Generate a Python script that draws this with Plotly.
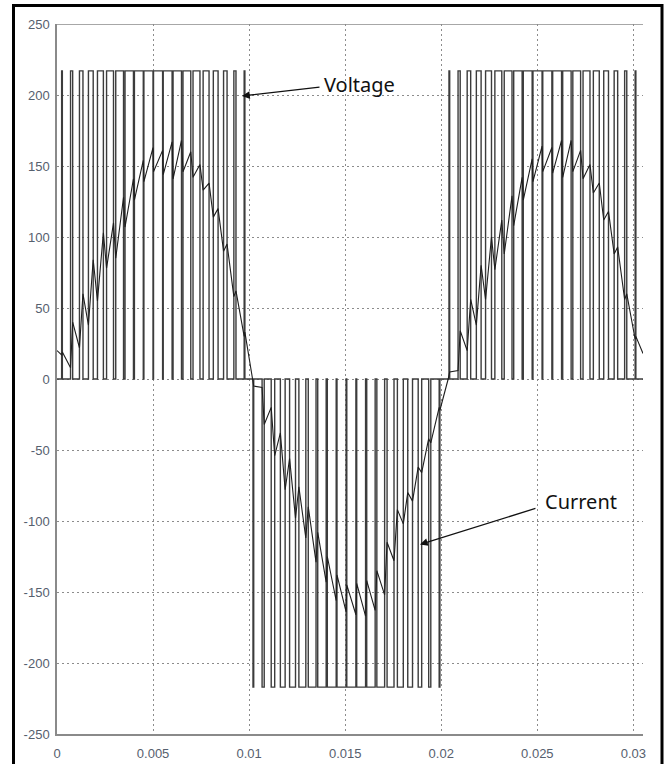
import plotly.graph_objects as go

# ---------------- data ----------------
V_DC = 217.0  # pulse height of the voltage

# pulse centres (ms) and widths (microseconds) for the three half cycles
H1_centers_ms = [0.26, 0.76, 1.26, 1.76, 2.26, 2.76, 3.26, 3.76, 4.26, 4.76,
                 5.26, 5.76, 6.26, 6.76, 7.26, 7.76, 8.26, 8.76, 9.26, 9.76]
H2_centers_ms = [10.22, 10.73, 11.24, 11.75, 12.26, 12.77, 13.28, 13.79, 14.30, 14.81,
                 15.32, 15.83, 16.34, 16.85, 17.36, 17.87, 18.38, 18.89, 19.40, 19.91]
H3_centers_ms = [20.42, 20.93, 21.44, 21.95, 22.46, 22.97, 23.48, 23.99, 24.50, 25.01,
                 25.52, 26.03, 26.54, 27.05, 27.56, 28.07, 28.58, 29.09, 29.60, 30.11]
pulse_widths_us = [37, 111, 182, 248, 308, 361, 405, 439, 462, 474,
                   474, 462, 439, 405, 361, 308, 248, 182, 111, 37]

# current at the start (rise) and end (fall) of each pulse
H1_i_rise = [17, 8, 22, 38, 55, 78, 85, 107, 126, 139, 146, 144, 141, 146, 142, 133, 114, 90, 58, 30]
H1_i_fall = [19, 40, 60, 84, 103, 110, 128, 141, 154, 163, 161, 167, 168, 160, 151, 138, 120, 95, 62, 33]
H2_i_rise = [-2, -6, -20, -38, -56, -76, -90, -108, -125, -138, -145, -144, -142, -135, -115, -92, -80, -62, -42, -20]
H2_i_fall = [-5, -32, -54, -78, -98, -112, -129, -143, -156, -164, -166, -167, -163, -152, -128, -102, -86, -66, -45, -22]
H3_i_rise = [2, 6, 20, 38, 56, 77, 88, 108, 126, 139, 146, 145, 142, 146, 141, 131, 112, 88, 56, 28]
H3_i_fall = [5, 34, 56, 80, 100, 112, 129, 142, 155, 164, 163, 168, 168, 161, 151, 138, 118, 93, 60, 30]

current_start = (0.0, 20.0)
current_zero_1 = (10.15, 0.0)
current_zero_2 = (20.36, 0.0)
current_end = (30.5, 18.0)

x_tick_vals = [0, 0.005, 0.01, 0.015, 0.02, 0.025, 0.03]
x_tick_text = ["0", "0.005", "0.01", "0.015", "0.02", "0.025", "0.03"]
y_tick_vals = [-250, -200, -150, -100, -50, 0, 50, 100, 150, 200, 250]
y_tick_text = ["-250", "-200", "-150", "-100", "-50", "0", "50", "100", "150", "200", "250"]

# ---------------- build traces ----------------
vx, vy = [0.0], [0.0]
cx, cy = [current_start[0] / 1000], [current_start[1]]
halves = [(H1_centers_ms, 1, H1_i_rise, H1_i_fall, current_zero_1),
          (H2_centers_ms, -1, H2_i_rise, H2_i_fall, current_zero_2),
          (H3_centers_ms, 1, H3_i_rise, H3_i_fall, None)]
for centers, sign, irise, ifall, zero in halves:
    for c, w, a, b in zip(centers, pulse_widths_us, irise, ifall):
        r = (c - w / 2000.0) / 1000.0
        f = (c + w / 2000.0) / 1000.0
        vx += [r, r, f, f]
        vy += [0, sign * V_DC, sign * V_DC, 0]
        cx += [r, f]
        cy += [a, b]
    if zero is not None:
        cx.append(zero[0] / 1000)
        cy.append(zero[1])
vx.append(0.0305)
vy.append(0.0)
cx.append(current_end[0] / 1000)
cy.append(current_end[1])

fig = go.Figure()
fig.add_trace(go.Scatter(x=vx, y=vy, mode="lines", line=dict(color="#3c3c3c", width=1.4),
                         name="Voltage", hoverinfo="skip"))
fig.add_trace(go.Scatter(x=cx, y=cy, mode="lines", line=dict(color="#1e1e1e", width=1.1),
                         name="Current", hoverinfo="skip"))

tick_font = dict(family="Liberation Sans, Arial, sans-serif", size=13, color="#56606e")
grid_dash = "2px,3px"
fig.update_layout(
    width=671, height=764,
    margin=dict(l=57, r=28, t=24, b=30),
    paper_bgcolor="white", plot_bgcolor="white",
    showlegend=False,
    xaxis=dict(range=[0, 0.0305], tickvals=x_tick_vals, ticktext=x_tick_text,
               showgrid=True, gridcolor="#8c8c8c", griddash=grid_dash, gridwidth=1,
               showline=True, linecolor="#8a8a8a", linewidth=1.5, zeroline=False,
               ticks="", tickfont=tick_font, ticklabelstandoff=7, automargin=False),
    yaxis=dict(range=[-250, 250], tickvals=y_tick_vals, ticktext=y_tick_text,
               showgrid=True, gridcolor="#8c8c8c", griddash=grid_dash, gridwidth=1,
               showline=True, linecolor="#8a8a8a", linewidth=1.5, zeroline=False,
               ticks="", tickfont=tick_font, ticklabelstandoff=3, automargin=False),
)

# top axis line (no right edge in the cropped original)
fig.add_shape(type="line", xref="x", yref="y", x0=0, x1=0.0305, y0=250, y1=250,
              line=dict(color="#8a8a8a", width=1.5))
# outer black frame
fig.add_shape(type="rect", xref="paper", yref="paper",
              x0=(13.5 - 57) / 586, x1=(662 - 57) / 586,
              y0=(734 - 767) / 710, y1=(734 - 5.5) / 710,
              line=dict(color="black", width=3), fillcolor="rgba(0,0,0,0)")

ann_font = dict(family="Noto Sans, Open Sans, sans-serif", size=20, color="#111111")
fig.add_annotation(x=0.00963, y=199.3, ax=0.01374, ay=205.6, axref="x", ayref="y",
                   text="", showarrow=True, arrowhead=2, arrowsize=1.2, arrowwidth=1.3,
                   arrowcolor="#111111")
fig.add_annotation(x=0.01379, y=207.7, text="Voltage", showarrow=False,
                   xanchor="left", yanchor="middle", font=ann_font)
fig.add_annotation(x=0.01889, y=-116.5, ax=0.02498, ay=-90.8, axref="x", ayref="y",
                   text="", showarrow=True, arrowhead=2, arrowsize=1.2, arrowwidth=1.3,
                   arrowcolor="#111111")
fig.add_annotation(x=0.0253, y=-86.6, text="Current", showarrow=False,
                   xanchor="left", yanchor="middle", font=ann_font)

fig.write_html("out.html")
